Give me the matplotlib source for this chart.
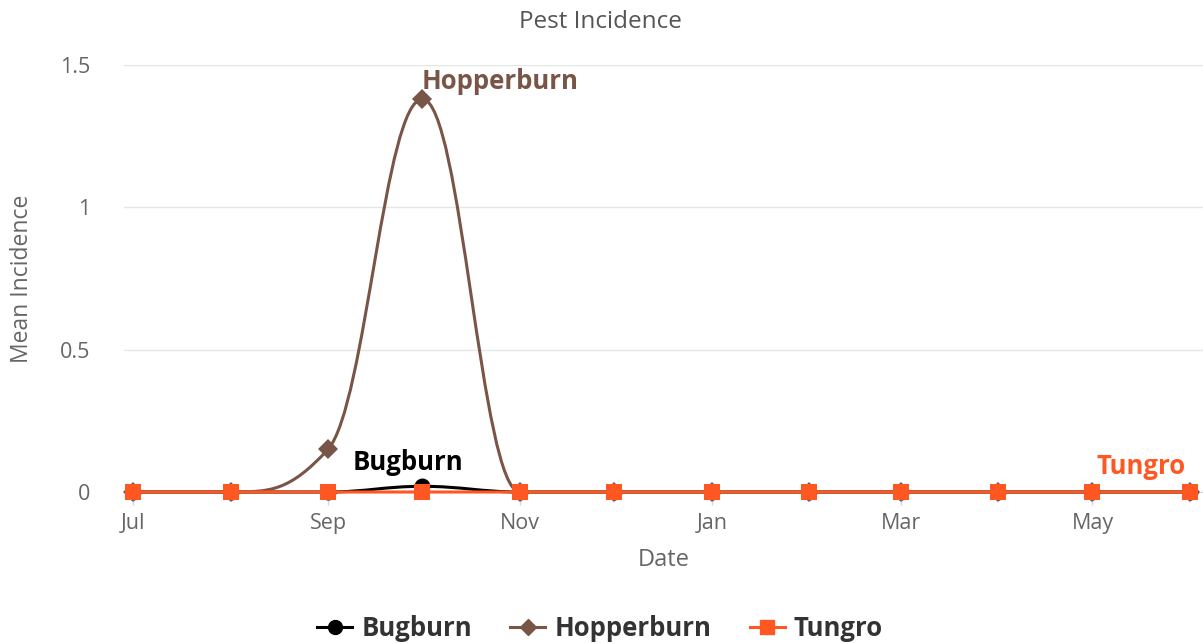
import matplotlib
matplotlib.use("Agg")
import matplotlib.pyplot as plt
import matplotlib.dates as mdates
from matplotlib.path import Path
from matplotlib.patches import PathPatch
from matplotlib.lines import Line2D
import numpy as np
import datetime as dt

plt.rcParams['font.family'] = ['Open Sans', 'DejaVu Sans']

# ---- data ----
dates = ["2023-07-01", "2023-08-01", "2023-09-01", "2023-10-01", "2023-11-01", "2023-12-01",
         "2024-01-01", "2024-02-01", "2024-03-01", "2024-04-01", "2024-05-01", "2024-06-01"]
bugburn = [0, 0, 0, 0.02, 0, 0, 0, 0, 0, 0, 0, 0]
hopperburn = [0, 0, 0.15, 1.38, 0, 0, 0, 0, 0, 0, 0, 0]
tungro = [0, 0, 0, 0, 0, 0, 0, 0, 0, 0, 0, 0]
tick_months = ["2023-07-01", "2023-09-01", "2023-11-01", "2024-01-01", "2024-03-01", "2024-05-01"]
tick_labels = ["Jul", "Sep", "Nov", "Jan", "Mar", "May"]
y_ticks = [0, 0.5, 1, 1.5]
y_tick_labels = ["0", "0.5", "1", "1.5"]

C_BUG = "#000000"
C_HOP = "#795548"
C_TUN = "#FF5722"

W, H = 1203, 643
fig = plt.figure(figsize=(W / 100, H / 100), dpi=100)
fig.patch.set_facecolor("white")
ax = fig.add_axes([124 / W, (H - 492) / H, (1203 - 124) / W, (492 - 65) / H])

xd = [mdates.date2num(dt.datetime.strptime(d, "%Y-%m-%d")) for d in dates]


def spline_path(xs, ys, smoothing=1.5):
    denom = smoothing + 1
    n = len(xs)
    lc = [None] * n
    rc = [None] * n
    for i in range(1, n - 1):
        px, py = xs[i], ys[i]
        lx, ly = xs[i - 1], ys[i - 1]
        nx, ny = xs[i + 1], ys[i + 1]
        lcx = (smoothing * px + lx) / denom
        lcy = (smoothing * py + ly) / denom
        rcx = (smoothing * px + nx) / denom
        rcy = (smoothing * py + ny) / denom
        if rcx != lcx:
            corr = ((rcy - lcy) * (rcx - px)) / (rcx - lcx) + py - rcy
            lcy += corr
            rcy += corr
            if lcy > ly and lcy > py:
                lcy = max(ly, py); rcy = 2 * py - lcy
            elif lcy < ly and lcy < py:
                lcy = min(ly, py); rcy = 2 * py - lcy
            if rcy > ny and rcy > py:
                rcy = max(ny, py); lcy = 2 * py - rcy
            elif rcy < ny and rcy < py:
                rcy = min(ny, py); lcy = 2 * py - rcy
        lc[i] = (lcx, lcy)
        rc[i] = (rcx, rcy)
    verts = [(xs[0], ys[0])]
    codes = [Path.MOVETO]
    for i in range(1, n):
        c1 = rc[i - 1] if rc[i - 1] is not None else (xs[i - 1], ys[i - 1])
        c2 = lc[i] if lc[i] is not None else (xs[i], ys[i])
        verts += [c1, c2, (xs[i], ys[i])]
        codes += [Path.CURVE4] * 3
    return Path(verts, codes)


LW = 2.2
for vals, col, mk, ms, z in [(bugburn, C_BUG, 'o', 11.5, 3),
                             (hopperburn, C_HOP, 'D', 10.5, 4),
                             (tungro, C_TUN, 's', 11.5, 5)]:
    ax.add_patch(PathPatch(spline_path(xd, vals), fill=False, edgecolor=col, lw=LW,
                           zorder=z, clip_on=False, capstyle='round', joinstyle='round'))
    ax.plot(xd, vals, linestyle='none', marker=mk, markersize=ms, color=col,
            markeredgewidth=0, zorder=z + 0.5, clip_on=False)

px_per_day = (1190 - 133) / (xd[-1] - xd[0])
ax.set_xlim(xd[0] - (133 - 124) / px_per_day, xd[-1] + (1203 - 1190) / px_per_day)
ax.set_ylim(0, 1.5)

ax.set_xticks([mdates.date2num(dt.datetime.strptime(d, "%Y-%m-%d")) for d in tick_months])
ax.set_xticklabels(tick_labels)
ax.set_yticks(y_ticks)
ax.set_yticklabels(y_tick_labels)

ax.tick_params(axis='x', colors="#ccd6eb", length=9, width=1, labelcolor="#666666",
               labelsize=15.5, pad=6)
ax.tick_params(axis='y', length=0, labelcolor="#666666", labelsize=15.5, pad=24.5)
for lab in ax.get_yticklabels():
    lab.set_horizontalalignment('right')

ax.grid(axis='y', color="#e6e6e6", lw=1)
ax.set_axisbelow(True)
for s in ['top', 'right', 'left']:
    ax.spines[s].set_visible(False)
ax.spines['bottom'].set_color("#ccd6eb")

ax.set_xlabel("Date", color="#666666", fontsize=17, labelpad=10.5)
ax.set_ylabel("Mean Incidence", color="#666666", fontsize=16.5)
ax.yaxis.label.set_va('center')
ax.yaxis.set_label_coords(-(124 - 22) / (1203 - 124), 0.5)

fig.text(600 / W, 1 - 22 / H, "Pest Incidence", ha='center', va='center',
         color="#555555", fontsize=17.5)

# series labels
LBL = 18.5
ax.annotate("Hopperburn", (xd[3], hopperburn[3]), xytext=(-1, 18), textcoords='offset pixels',
            ha='left', va='center', fontsize=LBL, fontweight='bold', color=C_HOP)
ax.annotate("Bugburn", (xd[3], bugburn[3]), xytext=(-14, 24), textcoords='offset pixels',
            ha='center', va='center', fontsize=LBL, fontweight='bold', color=C_BUG)
ax.annotate("Tungro", (xd[-1], tungro[-1]), xytext=(-4, 26), textcoords='offset pixels',
            ha='right', va='center', fontsize=LBL, fontweight='bold', color=C_TUN)

handles = [Line2D([], [], color=C_BUG, lw=LW, marker='o', markersize=10),
           Line2D([], [], color=C_HOP, lw=LW, marker='D', markersize=8.5),
           Line2D([], [], color=C_TUN, lw=LW, marker='s', markersize=10)]
leg = fig.legend(handles, ["Bugburn", "Hopperburn", "Tungro"], loc='center',
                 bbox_to_anchor=(600 / W, 1 - 628 / H), ncol=3, frameon=False,
                 handlelength=1.36, handletextpad=0.35, columnspacing=1.5,
                 prop={'weight': 'bold', 'size': 18.5})
for t in leg.get_texts():
    t.set_color("#333333")

fig.savefig("out.png", dpi=100, facecolor="white")
